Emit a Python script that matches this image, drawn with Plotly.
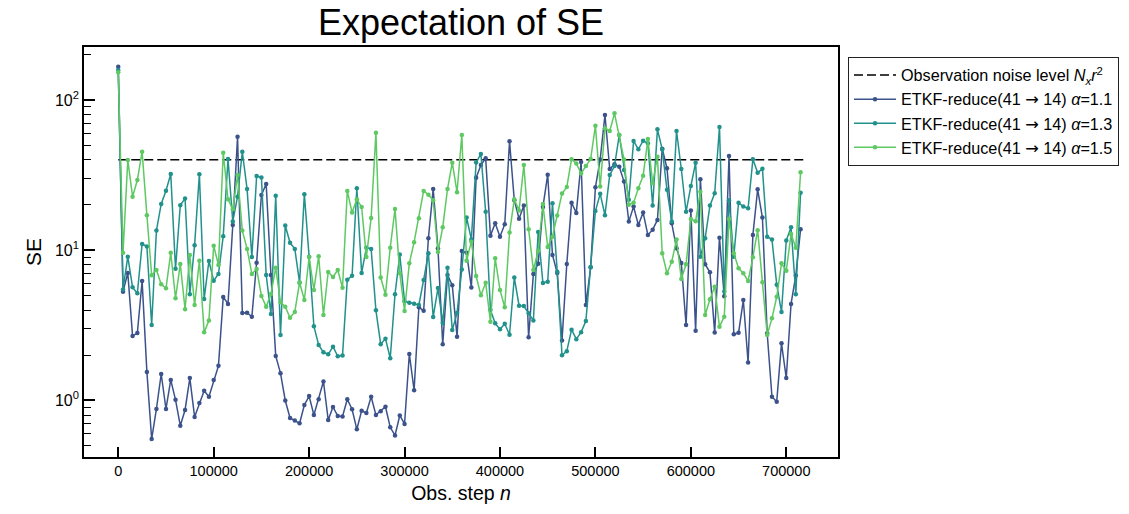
import plotly.graph_objects as go

# Observation steps (every 5000 steps)
steps = list(range(0, 720000, 5000))

noise_level = 40.0
noise_x = [0, 720000]

se_a11 = [166, 5.30, 7.05, 2.69, 2.81, 6.24, 1.55, 0.554, 0.878, 1.50,
          0.878, 1.37, 1.01, 0.680, 0.865, 1.41, 0.777, 0.962, 1.16, 1.06,
          1.37, 1.70, 4.88, 4.39, 14.7, 56.9, 3.82, 3.84, 3.61, 8.26,
          23.3, 27.6, 6.84, 1.98, 1.52, 1.00, 0.765, 0.736, 0.705, 0.933,
          1.07, 0.801, 1.02, 1.34, 0.742, 0.905, 0.789, 0.783, 1.02, 0.874,
          0.643, 0.855, 0.826, 1.06, 0.801, 0.848, 0.909, 0.663, 0.585, 0.795,
          0.698, 2.04, 1.17, 4.17, 3.96, 12.0, 25.5, 10.3, 2.37, 6.84,
          5.84, 2.66, 9.88, 9.6, 5.65, 30.3, 36.9, 40.9, 12.5, 15.1,
          12.3, 14.9, 53.0, 21.5, 16.2, 19.8, 2.63, 6.94, 8.14, 19.4,
          31.8, 9.29, 7.05, 2.51, 8.09, 20.7, 17.7, 38.6, 4.32, 7.69,
          26.2, 40.2, 79.3, 34.7, 37.3, 35.9, 28.6, 15.5, 19.5, 14.7,
          17.8, 12.6, 13.7, 15.9, 47.3, 35.1, 15.1, 10.3, 8.22, 3.18,
          18.4, 2.91, 29.7, 8.07, 7.13, 2.83, 12.1, 4.93, 42.4, 2.76,
          2.82, 4.66, 1.79, 12.6, 25.4, 16.5, 2.80, 1.06, 0.982, 2.40,
          1.41, 4.39, 6.79, 13.8]

se_a13 = [158, 5.48, 9.05, 5.66, 5.17, 11.0, 10.6, 3.18, 13.5, 20.3,
          24.9, 32.1, 7.52, 19.9, 22.1, 5.10, 10.8, 32.0, 4.74, 8.48,
          6.27, 6.94, 12.4, 40.4, 15.5, 22.7, 45.2, 25.5, 9.01, 31.2,
          30.5, 6.84, 3.76, 23.0, 2.73, 14.6, 11.2, 10.2, 6.08, 23.6,
          9.05, 3.12, 2.34, 2.09, 2.03, 2.28, 1.97, 1.99, 6.36, 6.75,
          25.8, 7.05, 10.4, 10.2, 3.98, 2.37, 2.58, 1.91, 5.09, 9.35,
          4.57, 4.47, 4.41, 4.32, 6.34, 9.54, 3.59, 5.60, 3.28, 7.65,
          2.94, 3.82, 7.43, 16.5, 11.8, 38.4, 43.7, 18.0, 4.00, 3.26,
          2.98, 3.24, 2.74, 6.58, 4.27, 4.25, 3.80, 3.41, 13.2, 6.05,
          6.17, 20.5, 7.2, 2.0, 2.13, 2.96, 2.56, 2.85, 3.38, 7.69,
          18.2, 23.7, 17.1, 31.6, 36.3, 58.4, 34.2, 21.7, 53.3, 46.9,
          53.5, 51.4, 19.8, 63.7, 46.9, 25.2, 15.5, 62.1, 34.7, 18.0,
          26.7, 38.2, 9.05, 12.0, 19.8, 23.9, 66.0, 5.31, 21.5, 9.05,
          20.7, 19.5, 19.0, 40.3, 32.8, 34.8, 12.3, 11.8, 5.90, 3.88,
          11.6, 14.2, 5.10, 24.1]

se_a15 = [153, 9.62, 39.8, 22.7, 29.3, 45.2, 17.1, 6.81, 7.38, 5.93,
          5.58, 9.6, 4.79, 8.09, 4.04, 9.29, 4.32, 8.51, 2.84, 3.40,
          10.7, 7.97, 44.5, 21.8, 18.7, 31.6, 13.5, 10.2, 6.94, 7.50,
          4.96, 4.21, 5.11, 7.65, 4.50, 4.21, 3.55, 3.88, 6.10, 4.66,
          9.01, 5.44, 9.11, 3.71, 7.16, 6.63, 7.38, 5.63, 24.8, 17.8,
          21.8, 19.4, 9.0, 16.4, 60.5, 6.58, 5.06, 10.4, 18.8, 7.02,
          3.94, 8.18, 11.3, 16.3, 24.8, 23.4, 21.5, 9.73, 14.2, 25.5,
          38.2, 24.3, 58.4, 8.51, 11.4, 6.73, 5.01, 6.08, 3.34, 8.83,
          5.44, 4.17, 13.1, 21.8, 18.4, 36.9, 13.8, 7.38, 9.92, 20.3,
          10.5, 12.3, 17.0, 23.8, 26.3, 40.3, 37.8, 32.4, 36.3, 40.4,
          67.3, 26.5, 64.7, 62.1, 81.4, 58.4, 40.2, 20.1, 20.7, 25.8,
          31.3, 54.9, 27.9, 41.9, 9.54, 7.02, 8.38, 11.8, 6.43, 8.06,
          16.1, 15.6, 24.5, 3.71, 4.71, 5.72, 3.10, 3.61, 16.1, 9.54,
          7.58, 7.02, 6.24, 8.97, 13.6, 6.11, 2.73, 3.52, 4.90, 8.18,
          7.30, 12.8, 10.4, 33.0]

ARROW = '<span style="font-family:DejaVu Sans">\u2192</span>'
series = [
    (f"ETKF-reduce(41 {ARROW} 14) <i>α</i>=1.1", se_a11, "#3b528b"),
    (f"ETKF-reduce(41 {ARROW} 14) <i>α</i>=1.3", se_a13, "#21918c"),
    (f"ETKF-reduce(41 {ARROW} 14) <i>α</i>=1.5", se_a15, "#5ec962"),
]

FONT = "Liberation Sans, Arial, Helvetica, DejaVu Sans, sans-serif"

fig = go.Figure()
fig.add_trace(go.Scatter(
    x=noise_x, y=[noise_level, noise_level], mode="lines",
    line=dict(color="black", width=1.6, dash="9px,4px"),
    name="Observation noise level <i>N<sub>x</sub>r</i><sup>2</sup>",
    legendgroup="g0",
))
for k, (name, vals, col) in enumerate(series):
    fig.add_trace(go.Scatter(
        x=steps, y=vals, mode="lines+markers",
        line=dict(color=col, width=1.5),
        marker=dict(color=col, size=4.5),
        name=name, legendgroup=f"g{k+1}",
    ))

fig.update_layout(
    width=1129, height=514,
    margin=dict(l=84, r=291, t=47, b=57, autoexpand=False),
    paper_bgcolor="white", plot_bgcolor="white",
    font=dict(family=FONT, color="black", size=15),
    title=dict(text="Expectation of SE", x=(84 + 838) / 2 / 1129, xanchor="center",
               y=1 - 22 / 514, yanchor="middle", yref="container",
               font=dict(size=36, family=FONT)),
    showlegend=True,
    legend=dict(x=1.013, y=0.976, xanchor="left", yanchor="top",
                bordercolor="#222222", borderwidth=1.2, bgcolor="white",
                itemwidth=42,
                font=dict(size=16.2, family=FONT), tracegroupgap=0),
)
fig.update_xaxes(
    range=[-35900, 754200], showgrid=False, zeroline=False,
    showline=True, linecolor="black", linewidth=1.6, mirror=True,
    ticks="inside", ticklen=10, tickwidth=1.8, tickcolor="black",
    tickvals=[0, 100000, 200000, 300000, 400000, 500000, 600000, 700000],
    ticktext=["0", "100000", "200000", "300000", "400000", "500000", "600000", "700000"],
    tickfont=dict(size=14.5),
    title=dict(text="Obs. step <i>n</i>", font=dict(size=19.5), standoff=8),
)
fig.update_yaxes(
    type="log", range=[-0.376, 2.352], showgrid=False, zeroline=False,
    showline=True, linecolor="black", linewidth=1.6, mirror=True,
    ticks="inside", ticklen=11, tickwidth=1.8, tickcolor="black",
    tickvals=[1, 10, 100], ticktext=["10<sup>0</sup>", "10<sup>1</sup>", "10<sup>2</sup>"],
    tickfont=dict(size=16),
    minor=dict(ticks="inside", ticklen=7, tickwidth=1.2, tickcolor="black",
               tickvals=[0.5, 0.6, 0.7, 0.8, 0.9, 2, 3, 4, 5, 6, 7, 8, 9,
                         20, 30, 40, 50, 60, 70, 80, 90, 200], showgrid=False),
    title=dict(text="SE", font=dict(size=21), standoff=8),
)

fig.write_html("out.html", config={"displayModeBar": False},
               post_script="document.body.style.margin='0px';")
